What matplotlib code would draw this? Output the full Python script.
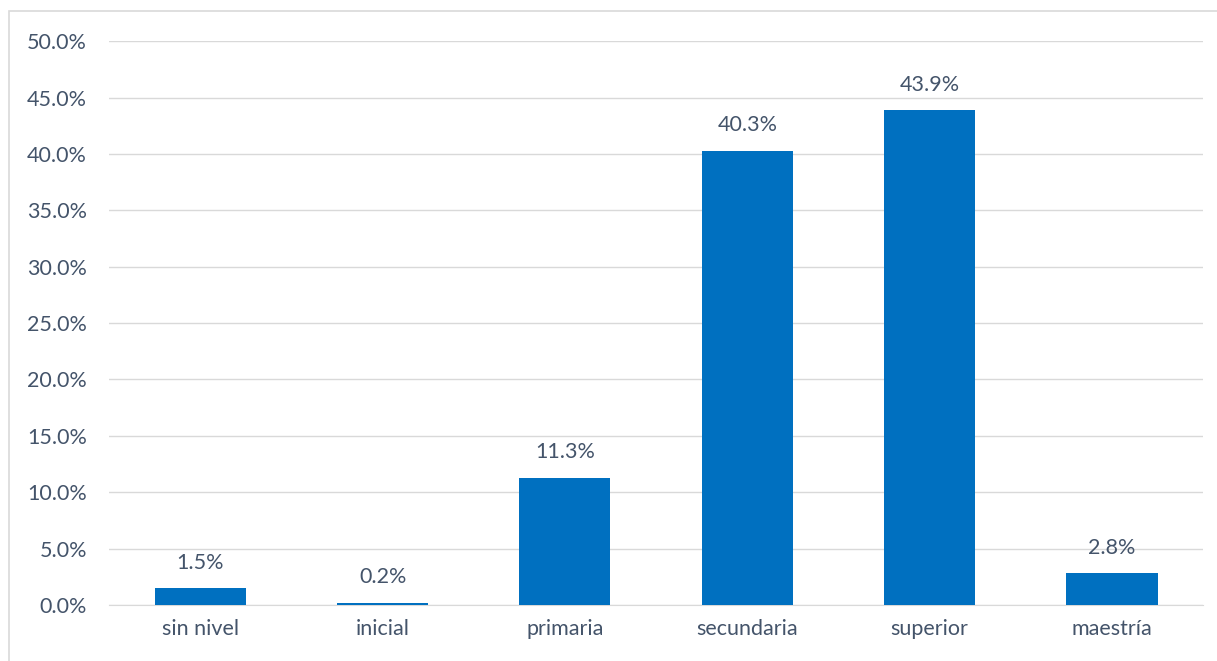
import matplotlib.pyplot as plt
import matplotlib.patches as mpatches

# data
categorias = ['sin nivel', 'inicial', 'primaria', 'secundaria', 'superior', 'maestría']
valores = [1.5, 0.2, 11.3, 40.3, 43.9, 2.8]
ticks_y = [0, 5, 10, 15, 20, 25, 30, 35, 40, 45, 50]

plt.rcParams['font.family'] = ['Lato', 'DejaVu Sans']
gris_texto = '#44546A'

fig = plt.figure(figsize=(12.17, 6.61), dpi=100)
ax = fig.add_axes([0.0896, 0.0847, 0.899, 0.853])

x = range(len(categorias))
bars = ax.bar(x, valores, width=0.5, color='#0070C0', zorder=3)

# etiquetas de valor
for b, v in zip(bars, valores):
    ax.annotate(f'{v:.1f}%', (b.get_x() + b.get_width() / 2, v),
                xytext=(0, 11), textcoords='offset points',
                ha='center', va='bottom', fontsize=15.5, color=gris_texto)

ax.set_xlim(-0.5, 5.5)
ax.set_ylim(0, 50)
ax.set_yticks(ticks_y)
ax.set_yticklabels([f'{t:.1f}%' for t in ticks_y])
ax.set_xticks(list(x))
ax.set_xticklabels(categorias)
ax.tick_params(axis='both', length=0, labelsize=15.5, colors=gris_texto)
ax.tick_params(axis='y', pad=16)
ax.tick_params(axis='x', pad=10)

ax.grid(axis='y', color='#D9D9D9', linewidth=1, zorder=0)
for s in ['top', 'right', 'left']:
    ax.spines[s].set_visible(False)
ax.spines['bottom'].set_color('#D9D9D9')

# marco exterior (solo visible arriba e izquierda)
fig.patches.append(mpatches.Rectangle((9 / 1217, -0.1), 1.2, (650 + 66) / 661,
                                      transform=fig.transFigure, fill=False,
                                      edgecolor='#D9D9D9', linewidth=1.2))

fig.savefig('out.png', dpi=100)
